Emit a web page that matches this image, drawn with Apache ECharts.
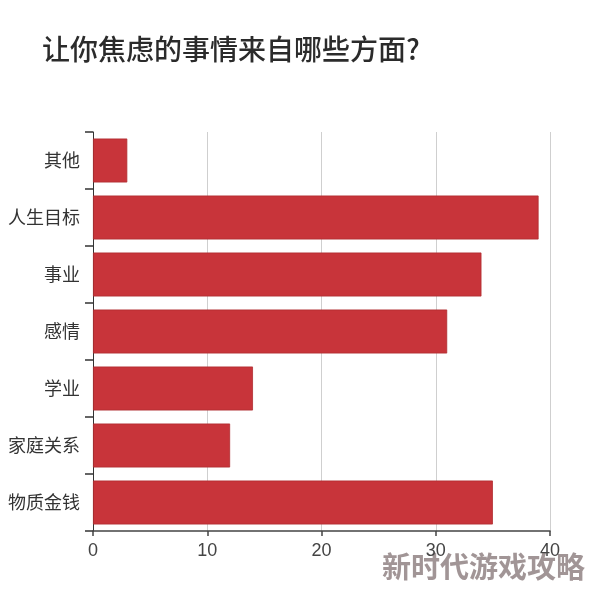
<!DOCTYPE html>
<html>
<head>
<meta charset="utf-8">
<script src="https://cdn.jsdelivr.net/npm/echarts@6/dist/echarts.min.js"></script>
<style>
  html, body { margin: 0; padding: 0; background: #fff; }
  #main { width: 594px; height: 589px; }
</style>
</head>
<body>
<div id="main"></div>
<script>
var categories = ['其他', '人生目标', '事业', '感情', '学业', '家庭关系', '物质金钱'];
var values = [3, 39, 34, 31, 14, 12, 35];
var xTicks = [0, 10, 20, 30, 40];

var myChart = echarts.init(document.getElementById('main'));
var font = '"Noto Sans CJK SC", "Noto Sans", sans-serif';

var option = {
  backgroundColor: '#fff',
  animation: false,
  title: {
    text: '让你焦虑的事情来自哪些方面?',
    left: 37,
    top: 30,
    textStyle: { fontFamily: font, fontSize: 28, fontWeight: 500, color: '#2b2b2b' }
  },
  grid: { left: 93, right: 44, top: 132, bottom: 58 },
  xAxis: {
    type: 'value',
    min: xTicks[0],
    max: xTicks[xTicks.length - 1],
    interval: 10,
    axisLine: { show: true, lineStyle: { color: '#444', width: 1.5 } },
    axisTick: { show: true, length: 5, lineStyle: { color: '#444', width: 1.5 } },
    axisLabel: { margin: 11, fontFamily: '"Liberation Sans", Arial, sans-serif', fontSize: 18, color: '#444' },
    splitLine: { show: true, lineStyle: { color: '#cfcfcf', width: 1 } }
  },
  yAxis: {
    type: 'category',
    data: categories,
    inverse: true,
    axisLine: { show: true, lineStyle: { color: '#333', width: 1 } },
    axisTick: { show: true, length: 8, lineStyle: { color: '#333', width: 1.5 } },
    axisLabel: { margin: 13, fontFamily: font, fontSize: 18, color: '#333' }
  },
  series: [{
    type: 'bar',
    data: values,
    barWidth: 44,
    itemStyle: { color: '#c8343a', borderColor: '#b02c30', borderWidth: 0.8 }
  }],
  graphic: [{
    type: 'text',
    right: 9,
    bottom: 8,
    style: {
      text: '新时代游戏攻略',
      fontFamily: font,
      fontSize: 29,
      fontWeight: 'bold',
      fill: 'rgba(145,130,132,0.85)'
    }
  }]
};

myChart.setOption(option);
</script>
</body>
</html>
